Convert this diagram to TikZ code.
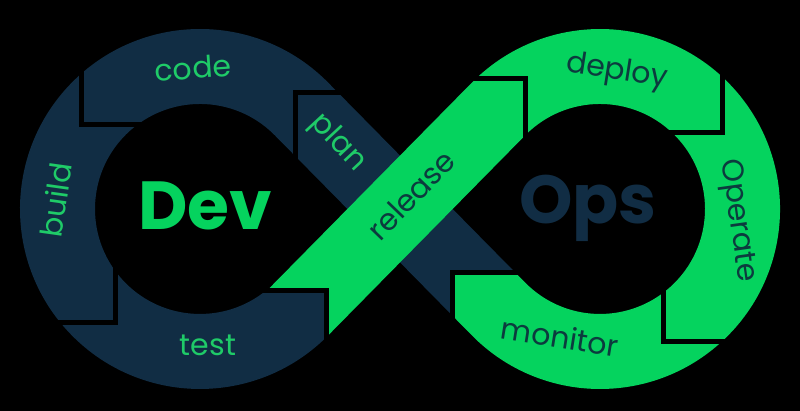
\documentclass[tikz,border=0pt]{standalone}
\usepackage{fontspec}
\setmainfont{Poppins}
\definecolor{loopnavy}{HTML}{112D44}
\definecolor{loopgreen}{HTML}{05D35E}
\definecolor{ongreen}{HTML}{0C3B3E}
\definecolor{onnavy}{HTML}{1FCB68}
\tikzset{
  stage/.style={font=\fontsize{30}{30}\selectfont, inner sep=0pt},
  navylabel/.style={stage, text=onnavy},
  greenlabel/.style={stage, text=ongreen},
  bigword/.style={font=\fontsize{68}{68}\selectfont\bfseries, inner sep=0pt},
  cut/.style={draw=black, line width=5pt, miter limit=10}
}
\begin{document}
\begin{tikzpicture}[x=1pt,y=1pt]
% canvas
\fill[black] (0,0) rectangle (800,411);
\useasboundingbox (0,0) rectangle (800,411);

% left loop (plan - code - build - test), dark band running through the crossing
\fill[loopnavy] (326,120) -- (326,73.5)
  arc[start angle=-45.56, end angle=-315.44, radius=180pt]
  -- (515.2,138.5) -- (452.5,138.5) -- (452.5,95.3) -- (274.8,275.7)
  arc[start angle=44.56, end angle=308.7, radius=105pt] -- cycle;

% right loop (release - deploy - operate - monitor), drawn over the crossing
\fill[loopgreen] (326,120) -- (326,73.4) -- (525.2,275.7)
  arc[start angle=135.44, end angle=-135.44, radius=105pt]
  -- (515.2,138.5) -- (452.5,138.5) -- (452.5,95.3) -- (471.8,75.7)
  arc[start angle=-135.44, end angle=135.44, radius=180pt]
  -- (266.6,120) -- cycle;

% chevron cuts between stages
\coordinate (j1) at (295,318.5);
\coordinate (j2) at (81.5,286.5);
\coordinate (j3) at (115,88);
\coordinate (j4) at (326,120);
\coordinate (j5) at (525.5,332);
\coordinate (j6) at (722,278);
\coordinate (j7) at (663,69);
\coordinate (j8) at (452.5,138.5);
\draw[cut] (345,318.5) -- (j1) -- (295,245);
\draw[cut] (81.5,345) -- (j2) -- (145,286.5);
\draw[cut] (53,88) -- (j3) -- (115,148);
\draw[cut] (260,120) -- (j4) -- (326,66);
\draw[cut] (468,332) -- (j5) -- (525.5,268);
\draw[cut] (722,342) -- (j6) -- (665,278);
\draw[cut] (663,125) -- (j7) -- (728,69);
\draw[cut] (522,138.5) -- (j8) -- (452.5,88);

% stage labels
\node[navylabel, rotate=4]   (code)    at (193,343) {code};
\node[navylabel, rotate=82]  (build)   at (56,211)  {build};
\node[navylabel]             (test)    at (208,66)  {test};
\node[navylabel, rotate=-47] (plan)    at (338,268) {plan};
\node[greenlabel, rotate=46] (release) at (411,216) {release};
\node[greenlabel, rotate=-9] (deploy)  at (617,339) {deploy};
\node[greenlabel, rotate=-82](operate) at (737,190) {Operate};
\node[greenlabel, rotate=-9] (monitor) at (560,74)  {monitor};

% centre words
\node[bigword, text=loopgreen] (dev) at (205,205) {Dev};
\node[bigword, text=loopnavy]  (ops) at (588,203) {Ops};
\end{tikzpicture}
\end{document}
